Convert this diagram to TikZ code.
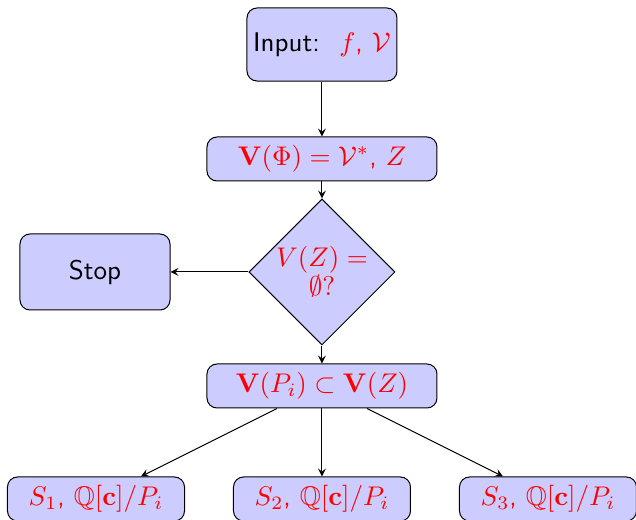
\documentclass[tikz,border=0pt]{standalone}
\usepackage{amsmath,amssymb}
\usepackage{fix-cm}
\usetikzlibrary{shapes.geometric,arrows}
\begin{document}
\begin{tikzpicture}[x=0.4pt,y=-0.4pt,
  txt/.style={font=\sffamily\fontsize{10.8}{12.5}\selectfont},
  box/.style={draw, rounded corners=4pt, fill=blue!20, inner sep=0pt, align=center, txt},
  decision/.style={draw, diamond, aspect=1, fill=blue!20, inner sep=0pt, minimum size=58.4pt, align=center, txt},
  arr/.style={draw, -stealth}]
\clip (0,0) rectangle (636,520);
\useasboundingbox (0,0) rectangle (636,520);
\node[box, minimum width=60pt, minimum height=29.2pt] (in) at (322,44.5) {Input: \;\textcolor{red}{$f$, $\mathcal{V}$}};
\node[box, minimum width=92pt, minimum height=17.6pt] (vphi) at (322,159) {\textcolor{red}{$\mathbf{V}(\Phi) = \mathcal{V}^*$, $Z$}};
\node[decision] (dec) at (322,272) {\textcolor{red}{$V(Z) =$}\\[-1pt]\textcolor{red}{$\emptyset?$}};
\node[box, minimum width=60pt, minimum height=30.4pt] (stop) at (95,272) {Stop};
\node[box, minimum width=92pt, minimum height=17.6pt] (vp) at (322,386) {\textcolor{red}{$\mathbf{V}(P_i) \subset \mathbf{V}(Z)$}};
\node[box, minimum width=70.8pt, minimum height=17.6pt] (s1) at (96,499) {\textcolor{red}{$S_1$, $\mathbb{Q}[\mathbf{c}]/P_i$}};
\node[box, minimum width=70.8pt, minimum height=17.6pt] (s2) at (322,499) {\textcolor{red}{$S_2$, $\mathbb{Q}[\mathbf{c}]/P_i$}};
\node[box, minimum width=70.8pt, minimum height=17.6pt] (s3) at (548,499) {\textcolor{red}{$S_3$, $\mathbb{Q}[\mathbf{c}]/P_i$}};
\path[arr] (in) -- (vphi);
\path[arr] (vphi) -- (dec);
\path[arr] (dec) -- (stop);
\path[arr] (dec) -- (vp);
\path[arr] (vp) -- (s1);
\path[arr] (vp) -- (s2);
\path[arr] (vp) -- (s3);
\end{tikzpicture}
\end{document}
